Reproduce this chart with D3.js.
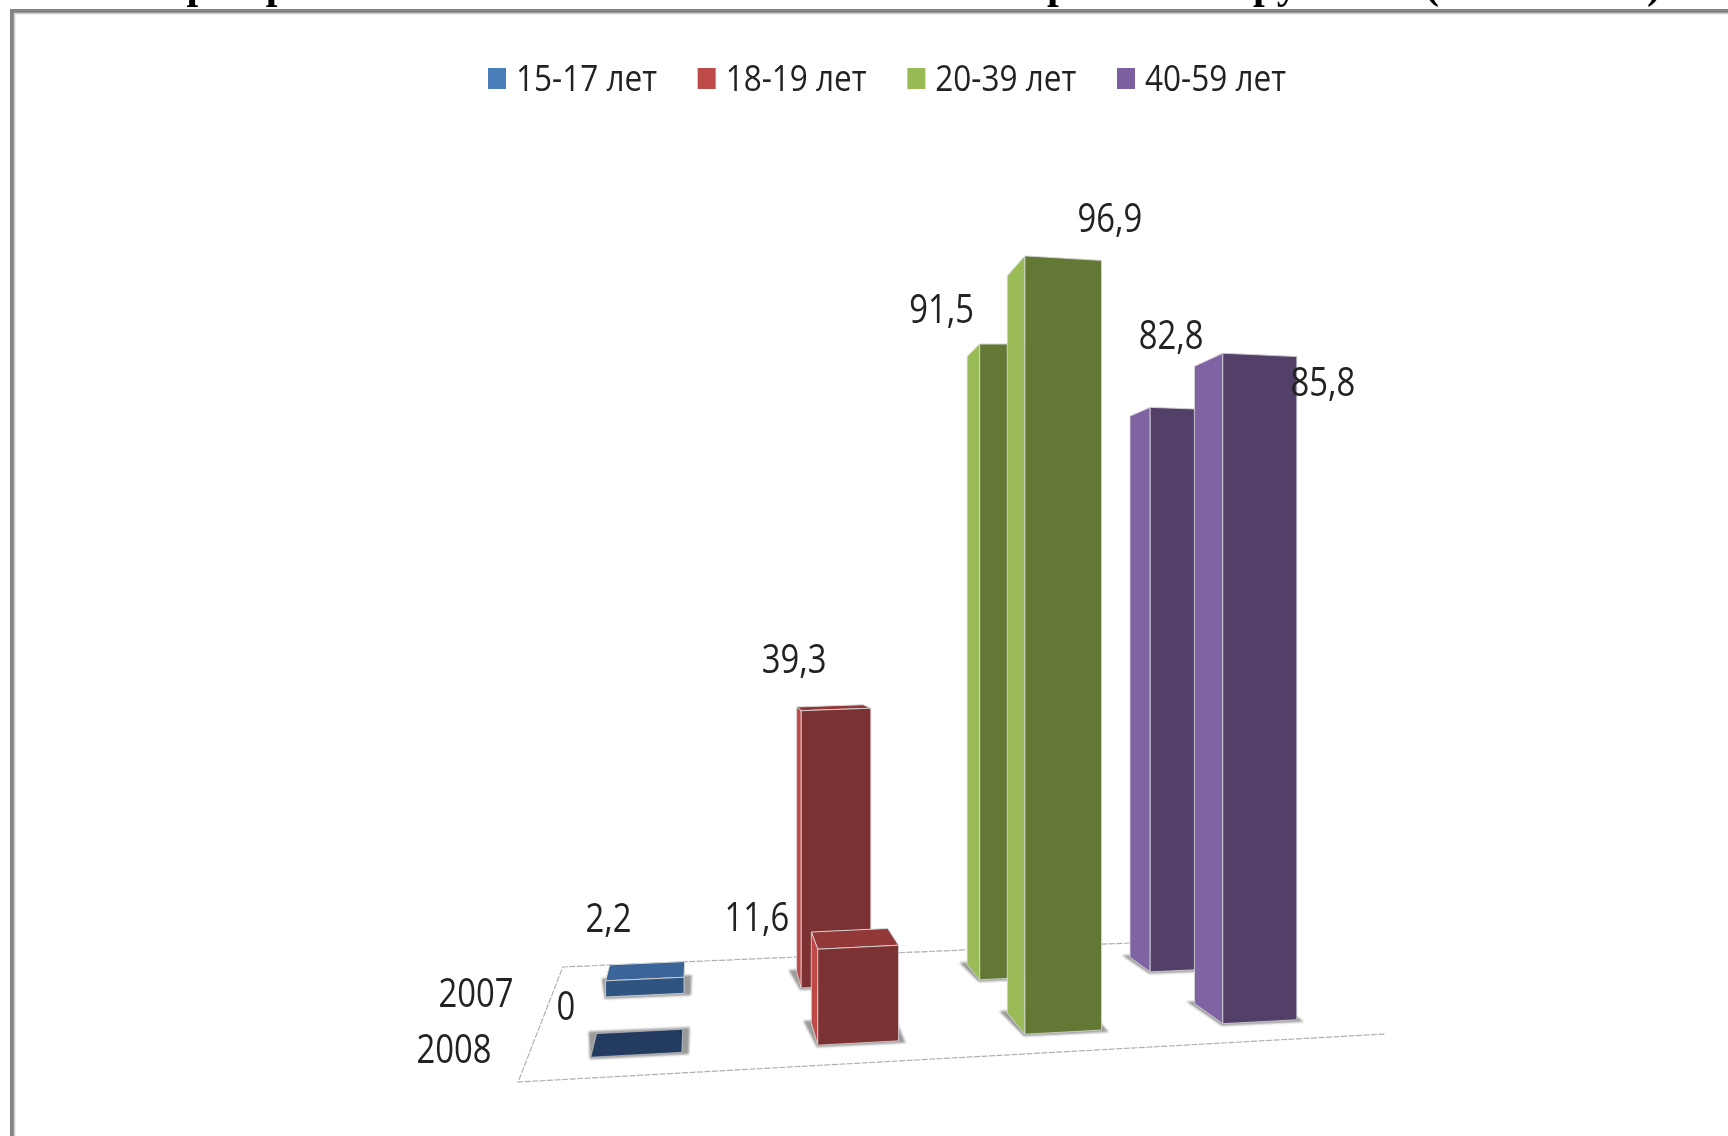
<!DOCTYPE html>
<html lang="ru"><head><meta charset="utf-8">
<style>html,body{margin:0;padding:0;background:#fff;overflow:hidden}svg{display:block}</style>
<script src="https://cdn.jsdelivr.net/npm/d3@7"></script></head>
<body><svg id="c" width="1728" height="1136"></svg>
<script>
// --- data ---
const categories = ["15-17 лет", "18-19 лет", "20-39 лет", "40-59 лет"];
const years = ["2007", "2008"];
const values2007 = [2.2, 39.3, 91.5, 82.8];
const values2008 = [0, 11.6, 96.9, 85.8];
const valueLabels2007 = ["2,2", "39,3", "91,5", "82,8"];
const valueLabels2008 = ["0", "11,6", "96,9", "85,8"];
// --- styles ---
const legendColors = ["#4a7ebb", "#be4b48", "#98b954", "#7d60a0"];
const frontColors = ["#2e5581", "#7c3030", "#647836", "#523f69"];
const leftColors = ["#3a6598", "#bf4a48", "#9bbb59", "#8064a2"];
const topColors = ["#3a6598", "#923838", "#647836", "#523f69"];
const flatColor = "#243a5e";
// label offsets from a bar's top front-left corner
const labelOffsets2007 = [[3,-64],[-7,-53],[-38,-37],[21,-74]];
const labelOffsets2008 = [[-25,-53],[-61,-34],[85,-39],[100,27]];

const svg = d3.select("#c");
const defs = svg.append("defs");
defs.append("filter").attr("id","soft").attr("x","-5%").attr("y","-5%").attr("width","110%").attr("height","110%")
  .append("feGaussianBlur").attr("stdDeviation",0.55);
defs.append("filter").attr("id","shade").attr("x","-20%").attr("y","-20%").attr("width","140%").attr("height","140%")
  .append("feGaussianBlur").attr("stdDeviation",1.2);

// --- projection built from scales ---
const catBand = d3.scaleBand().domain(categories).range([0.064,0.888]).paddingInner(0.617);
const yearBand = d3.scaleBand().domain(["2008","2007"]).range([0.106,0.823]).paddingInner(0.66);
const warp = d3.scalePow().exponent(0.9).domain([0,1]).range([0,1]);
const depth = d3.scalePow().exponent(0.75).domain([0,1]).range([0,1]);
const ax = d3.scaleLinear().domain([0,1]).range([509,556]);
const bx = d3.scaleLinear().domain([0,1]).range([909,683]);
const y0 = d3.scaleLinear().domain([0,1]).range([1077.5,965.4]);
const sl = d3.scaleLinear().domain([0,1]).range([-0.0554,-0.0423]);
const heightScale = d3.scalePow().exponent(0.99).domain([0,100]).range([0,808]);
const kx = d3.scaleLinear().domain([817,1025,1223]).range([1,0.992,0.964]);
const kf = d3.scaleLinear().domain([0.192,0.714]).range([1,0.865]);

function pt(t,v,value){
  const f = depth(v), x = ax(f)+bx(f)*warp(t), y = y0(f)+sl(f)*(x-600);
  return [x, y-heightScale(value)*kx(x)*kf(f)];
}
const line = d3.line();
const poly = ps => line(ps)+"Z";

const chart = svg.append("g").attr("filter","url(#soft)");

// --- floor ---
const tL=0.006,tR=0.959;
const floor = chart.append("g").attr("fill","none").attr("stroke","#b0b0b0").attr("stroke-width",1.2);
floor.append("path").attr("d",line([pt(tR,0,0),pt(tL,0,0),pt(tL,1,0),pt(tR,1,0)])).attr("stroke-dasharray","6 1.5");

// --- bars ---
const rows = [
 {year:"2007",vals:values2007,labels:valueLabels2007,off:labelOffsets2007},
 {year:"2008",vals:values2008,labels:valueLabels2008,off:labelOffsets2008}];
const bars = chart.append("g");
rows.forEach(r=>{
  r.anchor=[];
  categories.forEach((c,i)=>{
    const val=r.vals[i];
    const t0=catBand(c),t1=t0+catBand.bandwidth(),v0=yearBand(r.year),v1=v0+yearBand.bandwidth();
    const g=bars.append("g");
    const fl=pt(t0,v0,0),fr=pt(t1,v0,0),bl=pt(t0,v1,0),br=pt(t1,v1,0);
    g.append("path").attr("filter","url(#shade)").attr("fill","#9a9a9a")
      .attr("d",poly([[fl[0]-1,fl[1]+2],[fr[0]+7,fr[1]+2],[br[0]+7,br[1]-2],[bl[0]-8,bl[1]-2]]));
    const tfl=pt(t0,v0,val),tfr=pt(t1,v0,val),tbl=pt(t0,v1,val),tbr=pt(t1,v1,val);
    g.append("path").attr("d",poly([tfl,tfr,tbr,tbl]))
      .attr("fill",val===0?flatColor:topColors[i]).attr("stroke","#d8d8d8").attr("stroke-width",val===0?0.6:1);
    if(val>0){
      if(bl[0]<fl[0]) g.append("path").attr("d",poly([bl,fl,tfl,tbl])).attr("fill",leftColors[i]).attr("stroke","#ddd").attr("stroke-width",0.8);
      g.append("path").attr("d",poly([fl,fr,tfr,tfl])).attr("fill",frontColors[i]).attr("stroke","#ddd").attr("stroke-width",0.8);
    }
    r.anchor[i]=tfl;
  });
});

// --- text helper: condensed text, kept as real text ---
function txt(parent,s,x,y,size,squeeze){
  const n=parent.append("text").text(s).attr("x",x).attr("y",y)
    .attr("text-anchor","middle").attr("dominant-baseline","central")
    .attr("font-family","'Open Sans',sans-serif").attr("font-size",size).attr("fill","#222");
  const w=n.node().getComputedTextLength();
  n.attr("textLength",w*squeeze).attr("lengthAdjust","spacingAndGlyphs");
  return n;
}
rows.forEach(r=>r.labels.forEach((s,i)=>{
  txt(chart,s,r.anchor[i][0]+r.off[i][0],r.anchor[i][1]+r.off[i][1],40,0.82);
}));

// --- year labels on the depth axis ---
const yearLabelX = d3.scalePoint().domain(years).range([476,454]);
const yearLabelY = d3.scalePoint().domain(years).range([991,1047]);
years.forEach(y=>txt(chart,y,yearLabelX(y),yearLabelY(y),40,0.82));

// --- legend ---
const legendX = d3.scalePoint().domain(categories).range([488,1117]);
const legend = chart.append("g");
categories.forEach((c,i)=>{
  legend.append("rect").attr("x",legendX(c)).attr("y",68).attr("width",18).attr("height",21).attr("fill",legendColors[i]);
  const n=legend.append("text").text(c).attr("x",legendX(c)+28).attr("y",77).attr("dominant-baseline","central")
    .attr("font-family","'Open Sans',sans-serif").attr("font-size",36).attr("fill","#222");
  n.attr("textLength",141).attr("lengthAdjust","spacingAndGlyphs");
});

// --- clipped heading at the very top of the page ---
const head = svg.append("g").attr("font-family","'Liberation Serif',serif").attr("font-weight","bold").attr("font-size",42).attr("fill","#000");
head.append("text").text("Распространённость заболевания").attr("x",102).attr("y",-2).attr("textLength",602).attr("lengthAdjust","spacing");
head.append("text").text("по возрастным группам").attr("x",926).attr("y",-2).attr("textLength",473).attr("lengthAdjust","spacing");
head.append("text").text("(2007-2008 гг.)").attr("x",1425).attr("y",-2).attr("textLength",236).attr("lengthAdjust","spacing");

// --- page frame ---
const frame = svg.append("g");
[["#7f7f7f",9],["#8c8c8c",10],["#7f7f7f",11],["#999",12],["#cfcfcf",13],["#f0f0f0",14]].forEach(([col,p])=>{
  frame.append("rect").attr("x",p+1).attr("y",p).attr("width",1728-p).attr("height",1).attr("fill",col);
  frame.append("rect").attr("x",p+1).attr("y",p).attr("width",1).attr("height",1136-p).attr("fill",col);
});
</script></body></html>
